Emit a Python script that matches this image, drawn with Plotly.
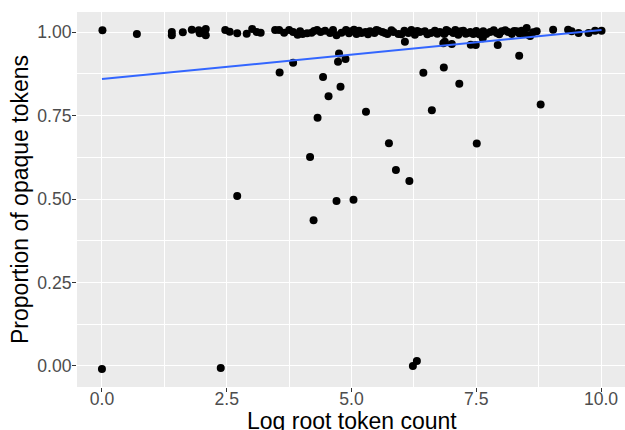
import plotly.graph_objects as go

# Scatter points: log root token count (x) vs proportion of opaque tokens (y)
band_x = [0.01, 0.70, 1.40, 1.40, 1.62, 1.80, 1.94, 1.96, 2.08, 2.08, 2.47, 2.56, 2.71, 2.90,
          3.01, 3.10, 3.18, 3.47, 3.55, 3.75, 3.83, 3.92, 4.02, 4.11, 4.20, 4.31, 4.47, 4.57,
          4.70, 4.80, 4.89, 4.90, 5.00, 5.10, 5.20, 5.28, 5.37, 5.46, 5.54, 5.62, 5.67, 5.84,
          5.94, 6.06, 6.14, 6.27, 6.37, 6.47, 6.59, 6.67, 6.77, 6.86, 6.94, 7.04, 7.14, 7.24,
          7.33, 7.44, 7.50, 7.64, 7.78, 7.91, 8.01, 8.14, 8.21, 8.31, 8.41, 8.51, 8.56, 8.71,
          9.04, 9.34, 9.41, 9.55, 9.75, 9.88, 10.01,
          4.95, 5.05, 5.15, 5.33, 5.50, 5.72, 5.80, 6.00, 6.20, 6.32, 6.52, 6.72, 6.90, 7.08,
          7.19, 7.29, 7.38, 7.56, 7.70, 7.85, 7.96, 8.08, 8.26, 8.36, 8.46, 8.64, 4.38, 4.63,
          3.65, 3.97, 4.25]
band_y = [1.005, 0.994, 1.000, 0.990, 0.999, 1.007, 1.005, 0.996, 1.009, 0.990, 1.006, 1.001, 0.996, 0.995,
          1.009, 1.000, 0.998, 1.006, 1.006, 1.006, 1.000, 0.992, 0.994, 0.996, 0.998, 1.006, 1.004, 0.997,
          0.990, 0.998, 1.006, 1.004, 1.002, 0.994, 0.997, 1.000, 1.002, 0.997, 1.004, 1.000, 0.997, 1.000,
          0.994, 1.004, 0.997, 0.992, 1.000, 1.002, 0.997, 1.004, 1.000, 0.994, 1.002, 0.997, 0.992, 1.004,
          0.997, 0.994, 1.003, 1.002, 1.000, 0.997, 1.002, 1.000, 0.994, 1.002, 1.004, 1.012, 0.990, 1.002,
          1.007, 1.007, 1.002, 0.997, 0.997, 1.004, 1.004,
          0.996, 1.007, 1.004, 0.993, 1.006, 0.994, 1.005, 0.993, 1.006, 1.003, 0.993, 0.995, 1.006, 1.006,
          1.002, 0.995, 1.000, 0.993, 0.994, 1.005, 0.993, 1.005, 1.003, 0.996, 0.995, 0.999, 1.000, 1.006,
          0.998, 1.002, 1.003]

low_x = [0.00, 2.38, 6.23, 6.31, 2.71, 3.56, 3.83, 4.17, 4.24, 4.32, 4.43, 4.54, 4.70, 4.73,
         4.75, 4.88, 4.78, 5.04, 5.29, 5.75, 5.89, 6.16, 6.44, 6.61, 6.85, 7.16, 7.51, 8.36,
         8.79, 6.07, 6.84, 6.87, 7.01, 7.39, 7.49, 7.93, 7.63, 8.58]
low_y = [-0.009, -0.006, 0.000, 0.015, 0.509, 0.879, 0.908, 0.626, 0.436, 0.743, 0.865, 0.808, 0.494, 0.911,
         0.936, 0.919, 0.836, 0.498, 0.761, 0.667, 0.587, 0.554, 0.878, 0.766, 0.894, 0.845, 0.666, 0.929,
         0.783, 0.971, 0.966, 0.971, 0.964, 0.962, 0.961, 0.961, 0.981, 0.988]

# Linear fit line (endpoints of fitted line)
fit_x = [0.0, 10.01]
fit_y = [0.859, 1.006]

x_ticks = [0.0, 2.5, 5.0, 7.5, 10.0]
x_labels = ["0.0", "2.5", "5.0", "7.5", "10.0"]
y_ticks = [0.0, 0.25, 0.5, 0.75, 1.0]
y_labels = ["0.00", "0.25", "0.50", "0.75", "1.00"]
x_title = "Log root token count"
y_title = "Proportion of opaque tokens"

FONT = "Liberation Sans, Arial, sans-serif"

fig = go.Figure()
fig.add_trace(go.Scatter(x=band_x + low_x, y=band_y + low_y, mode="markers",
                         marker=dict(color="black", size=8, line=dict(width=0)),
                         hoverinfo="skip", showlegend=False))
fig.add_trace(go.Scatter(x=fit_x, y=fit_y, mode="lines",
                         line=dict(color="#3366FF", width=2),
                         hoverinfo="skip", showlegend=False))

axis_common = dict(
    showgrid=True, gridcolor="white", gridwidth=1.1, zeroline=False,
    ticks="outside", ticklen=4, tickwidth=1, tickcolor="#333333",
    tickfont=dict(family=FONT, size=17.6, color="#4D4D4D"),
    showline=False, automargin=False,
)

fig.update_xaxes(**axis_common, range=[-0.5, 10.48], tickmode="array",
                 tickvals=x_ticks, ticktext=x_labels, ticklabelstandoff=-8,
                 minor=dict(dtick=1.25, tick0=0, showgrid=True, gridcolor="white",
                            gridwidth=0.55, ticks=""))
fig.update_yaxes(**axis_common, range=[-0.0629, 1.0599], tickmode="array",
                 tickvals=y_ticks, ticktext=y_labels, ticklabelstandoff=-3,
                 minor=dict(dtick=0.125, tick0=0, showgrid=True, gridcolor="white",
                            gridwidth=0.55, ticks=""),
                 title=dict(text=y_title, standoff=2,
                            font=dict(family=FONT, size=23, color="black")))

# x-axis title sits partly below the page edge, as in the reference
fig.add_annotation(text=x_title, xref="paper", yref="paper", x=0.502, y=-0.09,
                   xanchor="center", yanchor="middle", showarrow=False,
                   font=dict(family=FONT, size=23, color="black"))

fig.update_layout(
    width=625, height=430,
    margin=dict(l=77, r=0, t=12, b=43),
    plot_bgcolor="#EBEBEB", paper_bgcolor="white",
    font=dict(family=FONT),
)

fig.write_html("out.html", config={"displayModeBar": False},
               post_script="document.body.style.margin='0';document.body.style.overflow='hidden';")
